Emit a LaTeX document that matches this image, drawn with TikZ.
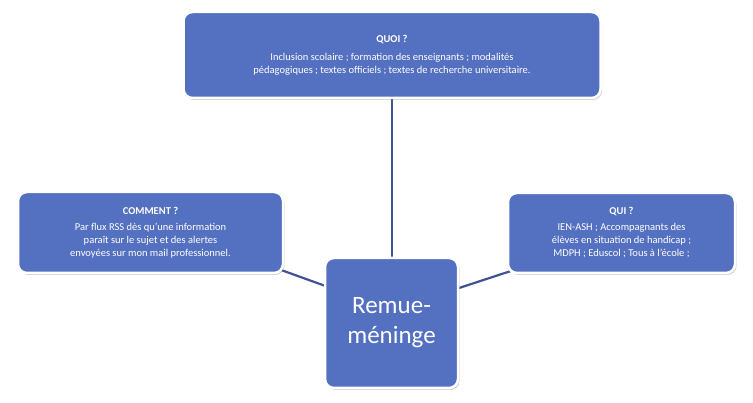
\documentclass[tikz,border=0pt]{standalone}
\usepackage{fontspec}
\setmainfont{Carlito}
\usetikzlibrary{shadows}
\definecolor{boxblue}{HTML}{5470C0}
\definecolor{linkblue}{HTML}{3F5294}
\tikzset{
  box/.style={rounded corners=9pt, fill=boxblue, draw=white, line width=2.5pt, text=white,
    drop shadow={shadow xshift=1.5pt, shadow yshift=-2pt, opacity=0.35}, align=center, font=\fontsize{10.5}{13}\selectfont},
  link/.style={draw=linkblue, line width=2.2pt}
}
\begin{document}
\begin{tikzpicture}[x=1pt,y=-1pt]
\useasboundingbox (0,0) rectangle (753,403);
\draw[link] (392,60) -- (392,300);
\draw[link] (270,266) -- (392,310);
\draw[link] (520,268) -- (392,310);
\node[box, minimum width=417pt, minimum height=86pt] (quoi) at (392,55)
 {\textbf{QUOI ?}\\[5pt]Inclusion scolaire ; formation des enseignants ; modalités\\pédagogiques ; textes officiels ; textes de recherche universitaire.};
\node[box, minimum width=265pt, minimum height=81pt] (comment) at (150.5,232.5)
 {\textbf{COMMENT ?}\\[3pt]Par flux RSS dès qu'une information\\paraît sur le sujet et des alertes\\envoyées sur mon mail professionnel.};
\node[box, minimum width=227pt, minimum height=80pt] (qui) at (621.5,233)
 {\textbf{QUI ?}\\[3pt]IEN-ASH ; Accompagnants des\\élèves en situation de handicap ;\\MDPH ; Eduscol ; Tous à l'école ;};
\node[box, minimum width=133pt, minimum height=130pt, font=\fontsize{25}{30}\selectfont] (centre) at (391.5,323)
 {Remue-\\méninge};
\end{tikzpicture}
\end{document}
